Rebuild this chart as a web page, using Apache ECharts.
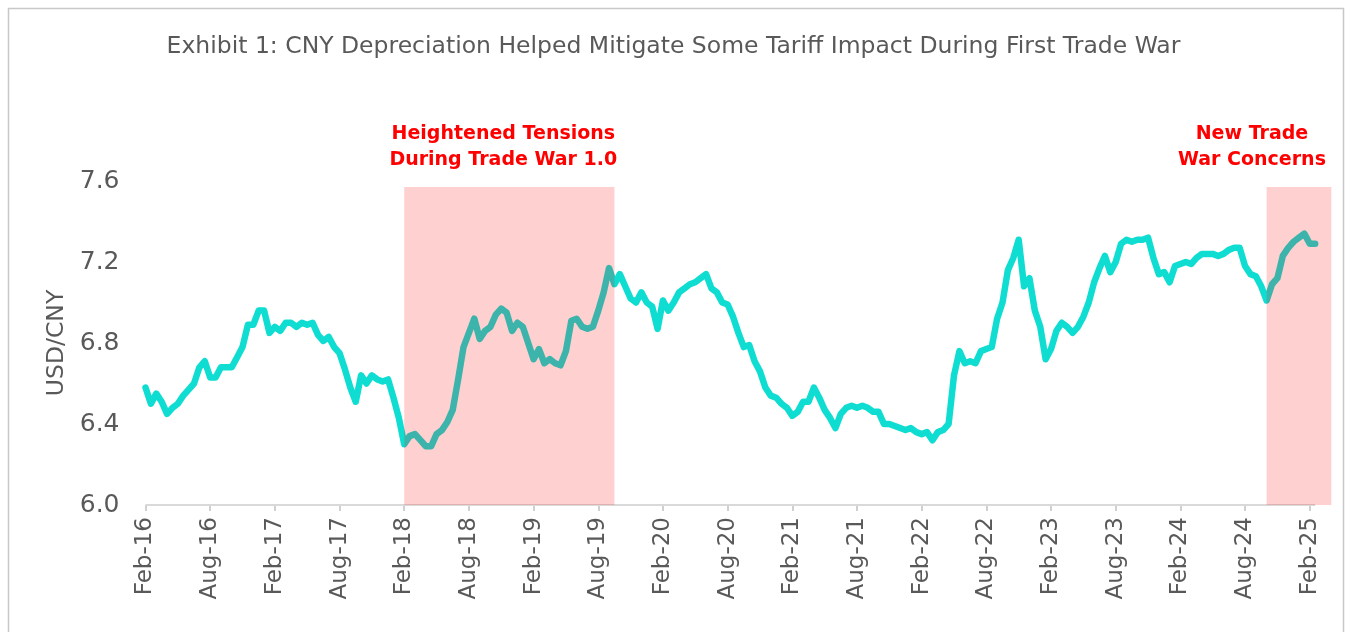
<!DOCTYPE html>
<html>
<head>
<meta charset="utf-8">
<title>Exhibit 1: CNY Depreciation</title>
<script src="https://cdn.jsdelivr.net/npm/echarts@6/dist/echarts.min.js"></script>
<style>
  html, body { margin: 0; padding: 0; background: #fff; }
  #chart { width: 1347px; height: 632px; }
</style>
</head>
<body>
<div id="chart"></div>
<script>
// x axis: half-month steps from 2016-02-01, runs a little past the last point
const startYear = 2016
const startMonth = 2
const categoryCount = 221

const tickLabels = ['Feb-16', 'Aug-16', 'Feb-17', 'Aug-17', 'Feb-18', 'Aug-18', 'Feb-19', 'Aug-19', 'Feb-20', 'Aug-20',
  'Feb-21', 'Aug-21', 'Feb-22', 'Aug-22', 'Feb-23', 'Aug-23', 'Feb-24', 'Aug-24', 'Feb-25']

// USD/CNY, one value per half month
const usdCny = [
  6.58, 6.50, 6.55, 6.51, 6.45, 6.48, 6.50, 6.54, 6.57, 6.60, 6.68, 6.71,
  6.63, 6.63, 6.68, 6.68, 6.68, 6.73, 6.78, 6.89, 6.89, 6.96, 6.96, 6.85,
  6.88, 6.86, 6.90, 6.90, 6.88, 6.90, 6.89, 6.90, 6.84, 6.81, 6.83, 6.78,
  6.75, 6.67, 6.58, 6.51, 6.64, 6.60, 6.64, 6.62, 6.61, 6.62, 6.53, 6.43,
  6.30, 6.34, 6.35, 6.32, 6.29, 6.29, 6.35, 6.37, 6.41, 6.47, 6.62, 6.78,
  6.85, 6.92, 6.82, 6.86, 6.88, 6.94, 6.97, 6.95, 6.86, 6.90, 6.88, 6.80,
  6.72, 6.77, 6.70, 6.72, 6.70, 6.69, 6.76, 6.91, 6.92, 6.88, 6.87, 6.88,
  6.96, 7.05, 7.17, 7.09, 7.14, 7.08, 7.02, 7.00, 7.05, 7.00, 6.98, 6.87,
  7.01, 6.96, 7.00, 7.05, 7.07, 7.09, 7.10, 7.12, 7.14, 7.07, 7.05, 7.00,
  6.99, 6.93, 6.85, 6.78, 6.79, 6.71, 6.66, 6.58, 6.54, 6.53, 6.50, 6.48,
  6.44, 6.46, 6.51, 6.51, 6.58, 6.53, 6.47, 6.43, 6.38, 6.45, 6.48, 6.49,
  6.48, 6.49, 6.48, 6.46, 6.46, 6.40, 6.40, 6.39, 6.38, 6.37, 6.38, 6.36,
  6.35, 6.36, 6.32, 6.36, 6.37, 6.40, 6.64, 6.76, 6.70, 6.71, 6.70, 6.76,
  6.77, 6.78, 6.92, 7.00, 7.16, 7.22, 7.31, 7.08, 7.12, 6.96, 6.88, 6.72,
  6.77, 6.86, 6.90, 6.88, 6.85, 6.88, 6.93, 7.00, 7.10, 7.17, 7.23, 7.15,
  7.20, 7.29, 7.31, 7.30, 7.31, 7.31, 7.32, 7.22, 7.14, 7.15, 7.10, 7.18,
  7.19, 7.20, 7.19, 7.22, 7.24, 7.24, 7.24, 7.23, 7.24, 7.26, 7.27, 7.27,
  7.18, 7.14, 7.13, 7.08, 7.01, 7.09, 7.12, 7.23, 7.27, 7.30, 7.32, 7.34,
  7.29, 7.29
]

const tradeWar1 = ['2018-02-01', '2019-09-16']
const tradeWar2 = ['2024-10-01', '2025-04-01']
const bandTop = 7.57

const categories = []
for (let i = 0; i < categoryCount; i++) {
  const m = startMonth - 1 + Math.floor(i / 2)
  const y = startYear + Math.floor(m / 12)
  const mm = String(m % 12 + 1).padStart(2, '0')
  categories.push(y + '-' + mm + '-' + (i % 2 ? '16' : '01'))
}

const isTick = (index) => index % 12 === 0
const font = 'DejaVu Sans'
const grey = '#595959'

const chart = echarts.init(document.getElementById('chart'))
chart.setOption({
  animation: false,
  backgroundColor: '#fff',
  title: {
    text: 'Exhibit 1: CNY Depreciation Helped Mitigate Some Tariff Impact During First Trade War',
    left: 'center',
    top: 30,
    textStyle: { fontFamily: font, fontSize: 23.5, fontWeight: 'normal', color: grey }
  },
  graphic: [{
    type: 'rect',
    silent: true,
    shape: { x: 8.5, y: 8.5, width: 1335, height: 700 },
    style: { fill: 'none', stroke: '#c8c8c8', lineWidth: 1.5 }
  }],
  grid: { left: 145.5, right: 15.7, top: 181, bottom: 127 },
  xAxis: {
    type: 'category',
    data: categories,
    boundaryGap: false,
    axisLine: { show: false },
    axisTick: { show: true, interval: isTick, length: 6, lineStyle: { color: '#d0d0d0', width: 2 } },
    axisLabel: {
      interval: isTick,
      rotate: 90,
      margin: 12,
      fontFamily: font,
      fontSize: 23,
      color: grey,
      formatter: (val, index) => tickLabels[index / 12]
    },
    splitLine: { show: false }
  },
  yAxis: {
    type: 'value',
    min: 6.0,
    max: 7.6,
    interval: 0.4,
    name: 'USD/CNY',
    nameLocation: 'middle',
    nameRotate: 90,
    nameGap: 73,
    nameTextStyle: { fontFamily: font, fontSize: 23.5, color: grey },
    axisLine: { show: false },
    axisTick: { show: false },
    splitLine: { show: false },
    axisLabel: {
      margin: 26,
      fontFamily: font,
      fontSize: 25,
      color: grey,
      formatter: (v) => v.toFixed(1)
    }
  },
  series: [{
    type: 'line',
    name: 'USD/CNY',
    data: usdCny,
    symbol: 'none',
    z: 2,
    lineStyle: { color: '#10ddd2', width: 6.5, cap: 'round', join: 'round' },
    markLine: {
      silent: true,
      symbol: 'none',
      z: 1,
      label: { show: false },
      lineStyle: { color: '#d9d9d9', width: 2, type: 'solid' },
      data: [[{ coord: [categories[0], 6.0] }, { coord: [categories[usdCny.length - 1], 6.0] }]]
    },
    markArea: {
      silent: true,
      z: 3,
      itemStyle: { color: 'rgba(255,0,0,0.185)' },
      label: {
        show: true,
        position: 'top',
        distance: 14,
        fontFamily: font,
        fontSize: 19,
        fontWeight: 'bold',
        lineHeight: 26,
        color: '#ff0000',
        align: 'center'
      },
      data: [
        [{ name: 'Heightened Tensions\nDuring Trade War 1.0', xAxis: tradeWar1[0], yAxis: 6.0, label: { offset: [-6, 0] } },
          { xAxis: tradeWar1[1], yAxis: bandTop }],
        [{ name: 'New Trade\nWar Concerns', xAxis: tradeWar2[0], yAxis: 6.0, label: { offset: [-47, 0] } },
          { xAxis: tradeWar2[1], yAxis: bandTop }]
      ]
    }
  }]
})
</script>
</body>
</html>
